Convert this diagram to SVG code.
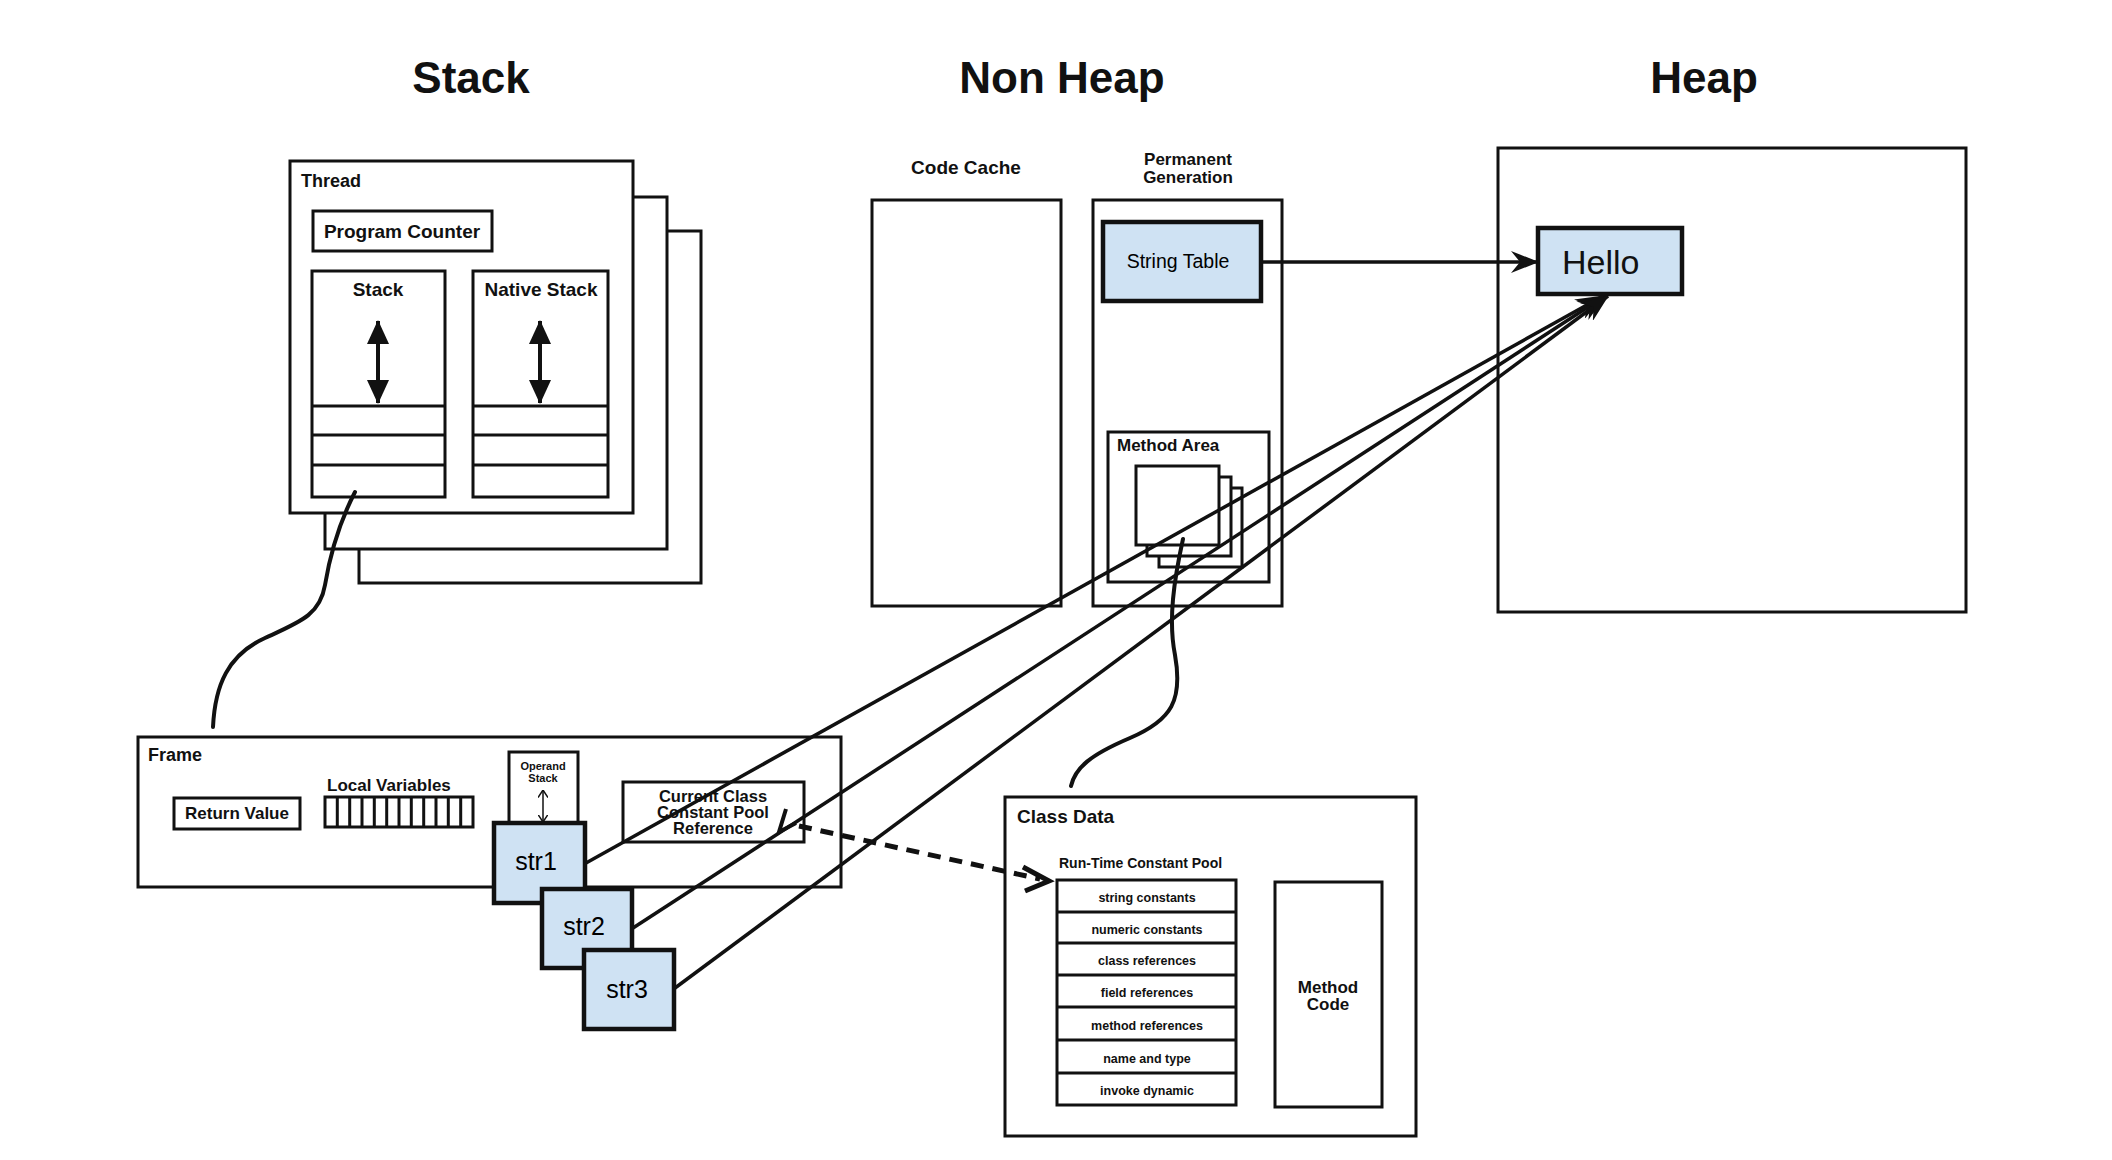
<svg xmlns="http://www.w3.org/2000/svg" width="2112" height="1160" viewBox="0 0 2112 1160">
  <style>
    text { font-family: "Liberation Sans", Arial, sans-serif; fill: #111; }
    .title { font-size: 44px; font-weight: bold; text-anchor: middle; }
    .lbl { font-size: 18px; font-weight: bold; }
    .mid { text-anchor: middle; }
    .box { fill: #fff; stroke: #111; stroke-width: 3; }
    .hollow { fill: none; stroke: #111; stroke-width: 3; }
    .val { fill: #cfe2f3; stroke: #111; stroke-width: 4.5; }
    .valtxt { font-weight: normal; text-anchor: middle; fill: #000; }
    .row { font-size: 12.5px; font-weight: bold; text-anchor: middle; }
    .link { fill: none; stroke: #111; stroke-width: 3.5; }
    .curve { fill: none; stroke: #111; stroke-width: 4; stroke-linecap: round; }
  </style>
  <defs>
    <marker id="head" viewBox="0 0 28 22" refX="27" refY="11" markerWidth="28" markerHeight="22" markerUnits="userSpaceOnUse" orient="auto">
      <path d="M0,0 L28,11 L0,22 L9,11 Z" fill="#111"/>
    </marker>
    <marker id="solidTip" viewBox="0 0 24 22" refX="23" refY="11" markerWidth="24" markerHeight="24" markerUnits="userSpaceOnUse" orient="auto-start-reverse">
      <path d="M0,0 L24,11 L0,22 Z" fill="#111"/>
    </marker>
    <marker id="thinTip" viewBox="0 0 8 10" refX="7.5" refY="5" markerWidth="8" markerHeight="10" markerUnits="userSpaceOnUse" orient="auto-start-reverse">
      <path d="M0,0 L7.5,5 L0,10" fill="none" stroke="#111" stroke-width="1.5"/>
    </marker>
  </defs>

  <rect width="2112" height="1160" fill="#fff"/>

  <!-- column headings -->
  <text class="title" x="471" y="93">Stack</text>
  <text class="title" x="1062" y="93">Non Heap</text>
  <text class="title" x="1704" y="93">Heap</text>

  <!-- thread (three stacked copies) -->
  <g id="thread">
    <rect class="box" x="359" y="231" width="342" height="352"/>
    <rect class="box" x="325" y="197" width="342" height="352"/>
    <rect class="box" x="290" y="161" width="343" height="352"/>
    <text class="lbl" x="301" y="187">Thread</text>
    <rect class="box" x="313" y="211" width="179" height="40"/>
    <text class="lbl mid" x="402" y="238" style="font-size:19px">Program Counter</text>
  </g>

  <g id="jvm-stack">
    <rect class="box" x="312" y="271" width="133" height="226"/>
    <line class="hollow" x1="312" y1="406" x2="445" y2="406"/>
    <line class="hollow" x1="312" y1="435" x2="445" y2="435"/>
    <line class="hollow" x1="312" y1="465" x2="445" y2="465"/>
    <text class="lbl mid" x="378" y="296" style="font-size:19px">Stack</text>
    <line x1="378" y1="321" x2="378" y2="403" stroke="#111" stroke-width="4" marker-start="url(#solidTip)" marker-end="url(#solidTip)"/>
  </g>

  <g id="native-stack">
    <rect class="box" x="473" y="271" width="135" height="226"/>
    <line class="hollow" x1="473" y1="406" x2="608" y2="406"/>
    <line class="hollow" x1="473" y1="435" x2="608" y2="435"/>
    <line class="hollow" x1="473" y1="465" x2="608" y2="465"/>
    <text class="lbl mid" x="541" y="296" style="font-size:19px">Native Stack</text>
    <line x1="540" y1="321" x2="540" y2="403" stroke="#111" stroke-width="4" marker-start="url(#solidTip)" marker-end="url(#solidTip)"/>
  </g>

  <!-- non heap -->
  <g id="code-cache">
    <text class="lbl mid" x="966" y="174" style="font-size:19px">Code Cache</text>
    <rect class="box" x="872" y="200" width="189" height="406"/>
  </g>

  <g id="permanent-generation">
    <text class="lbl mid" x="1188" y="165" style="font-size:17px">Permanent</text>
    <text class="lbl mid" x="1188" y="183" style="font-size:17px">Generation</text>
    <rect class="box" x="1093" y="200" width="189" height="406"/>
  </g>

  <g id="string-table">
    <rect class="val" x="1103" y="222" width="158" height="79"/>
    <text class="valtxt" x="1178" y="268" style="font-size:19.5px">String Table</text>
  </g>

  <g id="method-area">
    <rect class="box" x="1108" y="432" width="161" height="150"/>
    <text class="lbl" x="1117" y="451" style="font-size:17px">Method Area</text>
    <rect class="box" x="1159" y="488" width="83" height="79"/>
    <rect class="box" x="1147" y="477" width="84" height="79"/>
    <rect class="box" x="1136" y="466" width="83" height="79"/>
  </g>

  <!-- heap -->
  <g id="heap">
    <rect class="box" x="1498" y="148" width="468" height="464"/>
  </g>

  <g id="hello">
    <rect class="val" x="1538" y="228" width="144" height="66" stroke-width="4"/>
    <text x="1562" y="274" style="font-size:34px" fill="#000">Hello</text>
  </g>

  <!-- frame -->
  <g id="frame">
    <rect class="box" x="138" y="737" width="703" height="150"/>
    <text class="lbl" x="148" y="761">Frame</text>
    <rect class="box" x="174" y="798" width="126" height="31"/>
    <text class="lbl mid" x="237" y="819" style="font-size:17px">Return Value</text>
    <text class="lbl" x="327" y="791" style="font-size:17px">Local Variables</text>
    <rect class="box" x="325" y="797" width="148" height="30"/>
    <path class="hollow" stroke-width="2.5" d="M337.3,797v30 M349.7,797v30 M362,797v30 M374.3,797v30 M386.7,797v30 M399,797v30 M411.3,797v30 M423.7,797v30 M436,797v30 M448.3,797v30 M460.7,797v30"/>
    <rect class="box" x="623" y="782" width="181" height="60"/>
    <text class="lbl mid" x="713" y="802" style="font-size:16.5px">Current Class</text>
    <text class="lbl mid" x="713" y="818" style="font-size:16.5px">Constant Pool</text>
    <text class="lbl mid" x="713" y="834" style="font-size:16.5px">Reference</text>
  </g>

  <g id="operand-stack">
    <rect class="box" x="509" y="752" width="69" height="76"/>
    <text class="lbl mid" x="543" y="770" style="font-size:11px">Operand</text>
    <text class="lbl mid" x="543" y="782" style="font-size:11px">Stack</text>
    <line x1="543" y1="790" x2="543" y2="822" stroke="#111" stroke-width="1.5" marker-start="url(#thinTip)" marker-end="url(#thinTip)"/>
  </g>

  <g id="str1">
    <rect class="val" x="494" y="823" width="91" height="80"/>
    <text class="valtxt" x="536" y="870" style="font-size:25px">str1</text>
  </g>
  <g id="str2">
    <rect class="val" x="542" y="889" width="90" height="79"/>
    <text class="valtxt" x="584" y="935" style="font-size:25px">str2</text>
  </g>
  <g id="str3">
    <rect class="val" x="584" y="950" width="90" height="79"/>
    <text class="valtxt" x="627" y="998" style="font-size:25px">str3</text>
  </g>

  <!-- class data -->
  <g id="class-data">
    <rect class="box" x="1005" y="797" width="411" height="339"/>
    <text class="lbl" x="1017" y="823" style="font-size:19px">Class Data</text>
    <text class="lbl" x="1059" y="868" style="font-size:14px">Run-Time Constant Pool</text>
  </g>

  <g id="run-time-constant-pool">
    <rect class="box" x="1057" y="880" width="179" height="225"/>
    <path class="hollow" stroke-width="5" d="M1057,912h179 M1057,943h179 M1057,975h179 M1057,1007h179 M1057,1040h179 M1057,1073h179"/>
    <text class="row" x="1147" y="902">string constants</text>
    <text class="row" x="1147" y="934">numeric constants</text>
    <text class="row" x="1147" y="965">class references</text>
    <text class="row" x="1147" y="997">field references</text>
    <text class="row" x="1147" y="1030">method references</text>
    <text class="row" x="1147" y="1063">name and type</text>
    <text class="row" x="1147" y="1095">invoke dynamic</text>
  </g>

  <g id="method-code">
    <rect class="box" x="1275" y="882" width="107" height="225"/>
    <text class="lbl mid" x="1328" y="993" style="font-size:17px">Method</text>
    <text class="lbl mid" x="1328" y="1010" style="font-size:17px">Code</text>
  </g>

  <!-- connectors -->
  <g id="connectors">
    <path class="curve" d="M355,492 C338,525 330,555 325,585 C320,615 300,622 265,638 C228,655 215,685 213,727"/>
    <path class="curve" d="M1183,539 C1174,580 1168,620 1175,655 C1183,700 1172,720 1130,738 C1090,755 1075,768 1071,786"/>
    <line class="link" x1="1261" y1="262" x2="1538" y2="262" marker-end="url(#head)"/>
    <line class="link" x1="586" y1="863" x2="1603" y2="296" marker-end="url(#head)"/>
    <line class="link" x1="633" y1="928" x2="1605" y2="296" marker-end="url(#head)"/>
    <line class="link" x1="675" y1="988" x2="1608" y2="296" marker-end="url(#head)"/>
    <line x1="799" y1="826" x2="1040" y2="879" stroke="#111" stroke-width="5" stroke-dasharray="13 9"/>
    <path d="M1023,867 L1049,881 L1025,891" fill="none" stroke="#111" stroke-width="5" stroke-linejoin="miter"/>
    <path d="M786,809 L779,832 L796,823" fill="none" stroke="#111" stroke-width="4"/>
  </g>
</svg>
